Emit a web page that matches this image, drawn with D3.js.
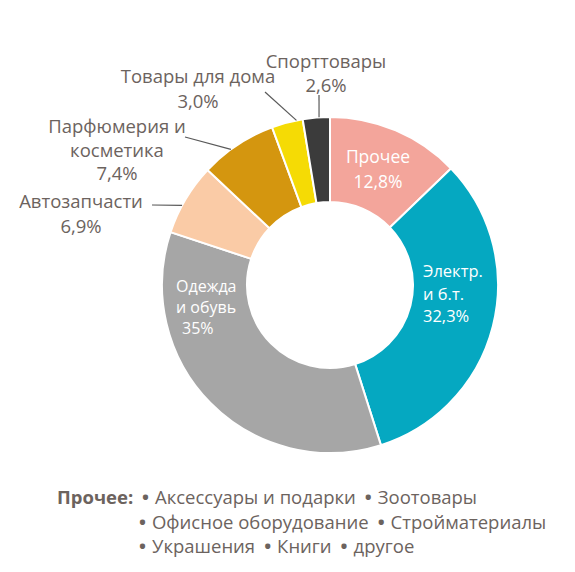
<!DOCTYPE html>
<html>
<head>
<meta charset="utf-8">
<script src="https://cdn.jsdelivr.net/npm/d3@7"></script>
<style>
  body { margin: 0; background: #fff; }
  svg text { font-family: "Open Sans", "Noto Sans", sans-serif; }
</style>
</head>
<body>
<svg id="chart" width="575" height="572"></svg>
<script>
const categories = ["Прочее", "Электр. и б.т.", "Одежда и обувь", "Автозапчасти", "Парфюмерия и косметика", "Товары для дома", "Спорттовары"];
const shares = [12.8, 32.3, 35, 6.9, 7.4, 3.0, 2.6];
const shareLabels = ["12,8%", "32,3%", "35%", "6,9%", "7,4%", "3,0%", "2,6%"];
const labelLines = [["Прочее"], ["Электр.", "и б.т."], ["Одежда", "и обувь"], ["Автозапчасти"], ["Парфюмерия и", "косметика"], ["Товары для дома"], ["Спорттовары"]];
const colors = ["#F3A59B", "#05A8C1", "#A6A6A6", "#FACBA6", "#D4960F", "#F5DB05", "#3B3B3B"];
const othersTitle = "Прочее:";
const othersRows = [["Аксессуары и подарки", "Зоотовары"], ["Офисное оборудование", "Стройматериалы"], ["Украшения", "Книги", "другое"]];

const width = 575, height = 572;
const cx = 330, cy = 285, outerR = 168, innerR = 83;
const textColor = "#6C635E";
const fs = 18.5;

const svg = d3.select("#chart");
const g = svg.append("g").attr("transform", `translate(${cx},${cy})`);

const data = categories.map((c, i) => ({name: c, value: shares[i], pct: shareLabels[i], lines: labelLines[i], color: colors[i]}));

const pie = d3.pie().value(d => d.value).sort(null);
const arc = d3.arc().innerRadius(innerR).outerRadius(outerR);
const arcs = pie(data);

g.selectAll("path.slice")
  .data(arcs)
  .join("path")
    .attr("class", "slice")
    .attr("d", arc)
    .attr("fill", d => d.data.color)
    .attr("stroke", "#fff")
    .attr("stroke-width", 2);

// label layout: first baseline relative to the centre, like the manual placement in the original
// t = where along the slice the leader line touches (0 start .. 1 end)
const labelLayout = [
  {x: 48, y: -122, lh: 25, size: 17.5, anchor: "middle", fill: "#fff"},
  {x: 93, y: -8, lh: 22.5, size: 16.5, anchor: "start", fill: "#fff"},
  {x: -154, y: 7, lh: 21, size: 16, anchor: "start", fill: "#fff", lastDx: 6},
  {x: -249, y: -77, lh: 25, size: fs, anchor: "middle", fill: textColor, lead: [-178, -80], t: 0.4},
  {x: -213, y: -152, lh: 23.5, size: fs, anchor: "middle", fill: textColor, lead: [-145, -148], t: 0.4},
  {x: -132, y: -202, lh: 25, size: fs, anchor: "middle", fill: textColor, lead: [-65, -193], t: 0.8},
  {x: -4, y: -217, lh: 24, size: fs, anchor: "middle", fill: textColor, lead: [-11, -190], t: 0.6}
];

arcs.forEach((a, i) => {
  const o = labelLayout[i];
  const lines = a.data.lines.concat([a.data.pct]);
  const t = g.append("text")
    .attr("fill", o.fill)
    .attr("font-size", o.size)
    .attr("text-anchor", o.anchor);
  lines.forEach((s, j) => {
    t.append("tspan")
      .attr("x", o.x + (o.lastDx && j === lines.length - 1 ? o.lastDx : 0))
      .attr("y", o.y + j * o.lh)
      .text(s);
  });
  if (o.lead) {
    const ang = a.startAngle + (a.endAngle - a.startAngle) * o.t;
    g.append("line")
      .attr("x1", o.lead[0]).attr("y1", o.lead[1])
      .attr("x2", Math.sin(ang) * outerR).attr("y2", -Math.cos(ang) * outerR)
      .attr("stroke", "#595959")
      .attr("stroke-width", 1.2);
  }
});

// legend for "Прочее"
const legend = svg.append("g").attr("font-size", fs).attr("fill", textColor);
const rowY = [504, 529, 553];
const itemX = 139;
legend.append("text")
  .attr("x", 57).attr("y", rowY[0])
  .attr("font-weight", "bold")
  .text(othersTitle);
othersRows.forEach((row, i) => {
  const t = legend.append("text")
    .attr("x", itemX + (i === 0 ? 3 : 0)).attr("y", rowY[i]);
  row.forEach((item, j) => {
    t.append("tspan").attr("dx", j ? 9 : 0).attr("font-weight", "bold").text("•");
    t.append("tspan").attr("dx", 6).text(item);
  });
});
</script>
</body>
</html>
